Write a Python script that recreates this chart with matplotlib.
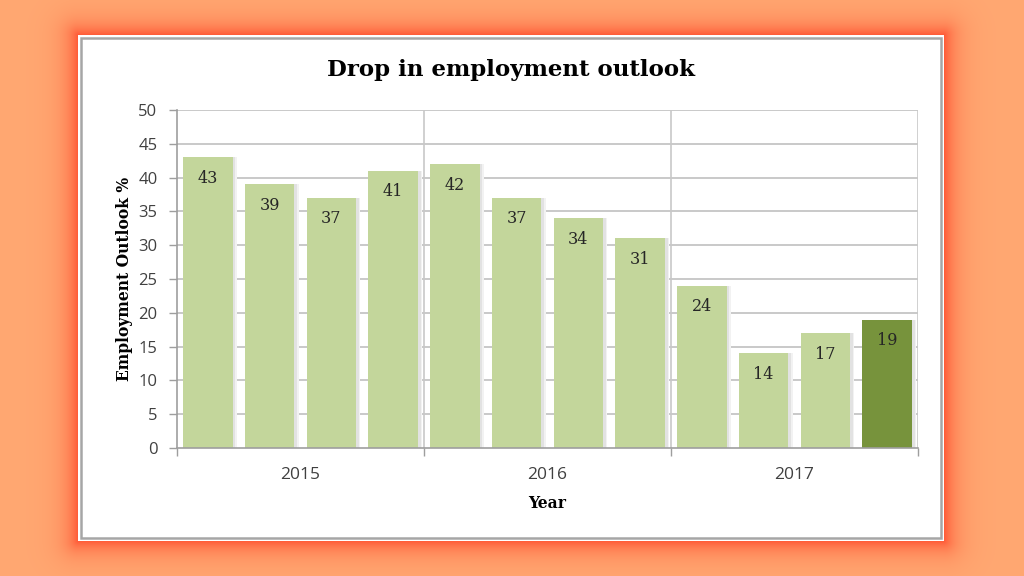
import numpy as np
import matplotlib.pyplot as plt
from matplotlib.patches import Rectangle

# quarterly values, 2015-2017
years = ['2015', '2016', '2017']
quarters_per_year = 4
outlook = [43, 39, 37, 41, 42, 37, 34, 31, 24, 14, 17, 19]
highlight = [False] * 11 + [True]

light_green = '#C3D69B'
dark_green = '#77933C'
serif = ['DejaVu Serif']
sans = ['Open Sans', 'DejaVu Sans']

fig = plt.figure(figsize=(10.24, 5.76), dpi=100)

# background with reddish glow around the white card
bg = fig.add_axes([0, 0, 1, 1])
bg.set_xlim(0, 1024)
bg.set_ylim(576, 0)
bg.axis('off')
yy, xx = np.mgrid[0:576, 0:1024] + 0.5
x0, x1, y0, y1 = 78, 944, 35, 541
dx = np.maximum(np.maximum(x0 - xx, xx - x1), 0)
dy = np.maximum(np.maximum(y0 - yy, yy - y1), 0)
d = np.hypot(dx, dy)
f = np.exp(-d / 12.0)[..., None]
orange = np.array([255, 168, 114]) / 255
red = np.array([255, 90, 55]) / 255
img = orange * (1 - f) + red * f
bg.imshow(img, extent=(0, 1024, 576, 0), interpolation='bilinear')
bg.add_patch(Rectangle((x0, y0), x1 - x0, y1 - y0, facecolor='white', edgecolor='none'))
bg.add_patch(Rectangle((81, 38), 860, 500, facecolor='white', edgecolor='#A6A6A6', lw=1.8))

ax = fig.add_axes([177 / 1024, 1 - 448 / 576, 741 / 1024, 338 / 576])
n = len(outlook)
x = np.arange(n)
ax.set_xlim(-0.5, n - 0.5)
ax.set_ylim(0, 50)

# gridlines and group separators
for v in range(5, 51, 5):
    ax.axhline(v, color='#C0C0C0', lw=1.2, zorder=0)
for k in range(1, len(years) + 1):
    ax.axvline(k * quarters_per_year - 0.5, color='#C8C8C8', lw=1.2, zorder=0)

w = 0.8
colors = [dark_green if h else light_green for h in highlight]
ax.bar(x + 0.07, outlook, width=w, color='#F2F2F2', zorder=1)
ax.bar(x + 0.045, outlook, width=w, color='#E2E2E2', zorder=1)
ax.bar(x, outlook, width=w, color=colors, zorder=2)
for xi, v in zip(x, outlook):
    ax.text(xi, v - 3.1, str(v), ha='center', va='center', fontsize=11.5,
            family=serif, color='#262626', zorder=3)

ax.set_yticks(range(0, 51, 5))
ax.tick_params(axis='y', length=6, width=1, color='#9E9E9E', labelsize=12,
               labelcolor='#404040', pad=8)
for lab in ax.get_yticklabels():
    lab.set_family(sans)

ax.set_xticks([k * quarters_per_year - 0.5 for k in range(len(years) + 1)])
ax.set_xticklabels([])
ax.tick_params(axis='x', length=6, width=1, color='#9E9E9E')
for k, yr in enumerate(years):
    ax.text(k * quarters_per_year + 1.5, -4.0, yr, ha='center', va='center',
            fontsize=12.5, family=sans, color='#404040')

for s in ['top', 'right']:
    ax.spines[s].set_visible(False)
for s in ['left', 'bottom']:
    ax.spines[s].set_color('#9E9E9E')
    ax.spines[s].set_linewidth(1.2)

ax.set_ylabel('Employment Outlook %', fontsize=11.2, fontweight='bold',
              family=serif, labelpad=4)
fig.text(547 / 1024, 1 - 503 / 576, 'Year', ha='center', va='center',
         fontsize=11.2, fontweight='bold', family=serif)
fig.text(511 / 1024, 1 - 70 / 576, 'Drop in employment outlook', ha='center',
         va='center', fontsize=16.5, fontweight='bold', family=serif)

fig.savefig('out.png', dpi=100)
